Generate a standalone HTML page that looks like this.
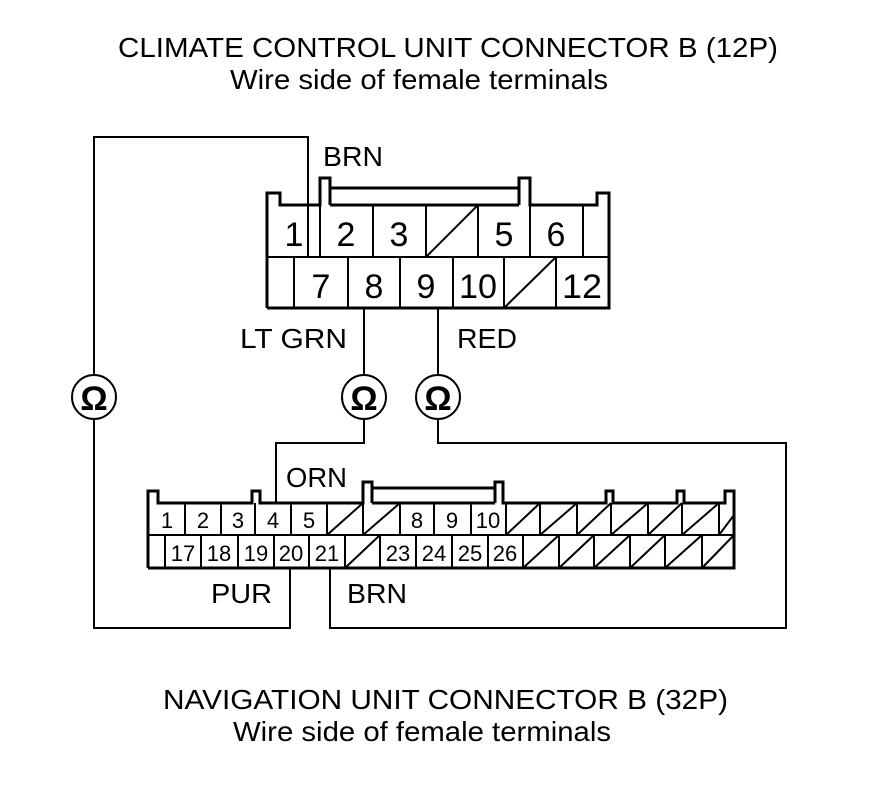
<!DOCTYPE html>
<html><head><style>html,body{margin:0;padding:0;background:#fff}svg{display:block}text{font-family:"Liberation Sans",Arial,sans-serif;fill:#000}</style></head><body>
<svg width="880" height="788" viewBox="0 0 880 788" xmlns="http://www.w3.org/2000/svg">
<g font-size="28">
<text x="118" y="57" textLength="660" lengthAdjust="spacingAndGlyphs">CLIMATE CONTROL UNIT CONNECTOR B (12P)</text>
<text x="230" y="89" textLength="378" lengthAdjust="spacingAndGlyphs">Wire side of female terminals</text>
<text x="163" y="709" textLength="565" lengthAdjust="spacingAndGlyphs">NAVIGATION UNIT CONNECTOR B (32P)</text>
<text x="233" y="741" textLength="378" lengthAdjust="spacingAndGlyphs">Wire side of female terminals</text>
<text x="323" y="166" textLength="60" lengthAdjust="spacingAndGlyphs">BRN</text>
<text x="240" y="348" textLength="107" lengthAdjust="spacingAndGlyphs">LT GRN</text>
<text x="457" y="348" textLength="60" lengthAdjust="spacingAndGlyphs">RED</text>
<text x="286" y="487" textLength="61" lengthAdjust="spacingAndGlyphs">ORN</text>
<text x="211" y="603" textLength="61" lengthAdjust="spacingAndGlyphs">PUR</text>
<text x="347" y="603" textLength="60" lengthAdjust="spacingAndGlyphs">BRN</text>
</g>
<g fill="none" stroke="#000" stroke-width="2">
<polyline points="308,257 308,137 94,137 94,375"/>
<polyline points="94,419 94,628 290,628 290,568"/>
<polyline points="330,568 330,628 786,628 786,443 438,443 438,419"/>
<polyline points="438,375 438,308"/>
<polyline points="364,308 364,375"/>
<polyline points="364,419 364,443 276,443 276,503"/>
<circle cx="94" cy="397" r="22"/>
<circle cx="364" cy="397" r="22"/>
<circle cx="438" cy="397" r="22"/>
</g>
<g font-size="34" text-anchor="middle" font-weight="bold">
<text x="94" y="410">Ω</text><text x="364" y="410">Ω</text><text x="438" y="410">Ω</text>
</g>
<g fill="none" stroke="#000" stroke-width="3">
<polyline points="267,308 267,193 280,193 280,205 320,205 320,178 330,178 330,205"/>
<polyline points="320,188 320,205"/>
<polyline points="330,188 519,188"/>
<polyline points="519,205 519,178 530,178 530,205 597,205 597,193 609,193 609,308 267,308"/>
<line x1="330" y1="205" x2="519" y2="205"/>
</g>
<g fill="none" stroke="#000" stroke-width="2">
<line x1="267" y1="257" x2="609" y2="257"/>
<line x1="320" y1="205" x2="320" y2="257"/>
<line x1="373" y1="205" x2="373" y2="257"/>
<line x1="426" y1="205" x2="426" y2="257"/>
<line x1="478" y1="205" x2="478" y2="257"/>
<line x1="530" y1="205" x2="530" y2="257"/>
<line x1="583" y1="205" x2="583" y2="257"/>
<line x1="426" y1="257" x2="478" y2="205"/>
<line x1="294" y1="257" x2="294" y2="308"/>
<line x1="348" y1="257" x2="348" y2="308"/>
<line x1="400" y1="257" x2="400" y2="308"/>
<line x1="453" y1="257" x2="453" y2="308"/>
<line x1="504" y1="257" x2="504" y2="308"/>
<line x1="556" y1="257" x2="556" y2="308"/>
<line x1="504" y1="308" x2="556" y2="257"/>
</g>
<g font-size="34" text-anchor="middle">
<text x="294" y="246">1</text><text x="346" y="246">2</text><text x="399" y="246">3</text><text x="504" y="246">5</text><text x="556" y="246">6</text>
<text x="321" y="298">7</text><text x="374" y="298">8</text><text x="426" y="298">9</text><text x="478" y="298" textLength="38" lengthAdjust="spacingAndGlyphs">10</text><text x="582" y="298" textLength="40" lengthAdjust="spacingAndGlyphs">12</text>
</g>
<g fill="none" stroke="#000" stroke-width="3">
<polyline points="148,568 148,491 158,491 158,503 252,503 252,491 260,491 260,503 363,503 363,482 372,482 372,503"/>
<line x1="372" y1="488" x2="495" y2="488"/>
<polyline points="495,503 495,482 503,482 503,503 606,503 606,491 613,491 613,503 677,503 677,491 684,491 684,503 725,503 725,491 734,491 734,568 148,568"/>
<line x1="372" y1="503" x2="495" y2="503"/>
</g>
<g fill="none" stroke="#000" stroke-width="2">
<line x1="148" y1="535" x2="734" y2="535"/>
<line x1="185" y1="503" x2="185" y2="535"/><line x1="221" y1="503" x2="221" y2="535"/>
<line x1="255" y1="503" x2="255" y2="535"/><line x1="291" y1="503" x2="291" y2="535"/>
<line x1="327" y1="503" x2="327" y2="535"/><line x1="363" y1="503" x2="363" y2="535"/>
<line x1="400" y1="503" x2="400" y2="535"/><line x1="434" y1="503" x2="434" y2="535"/>
<line x1="471" y1="503" x2="471" y2="535"/><line x1="506" y1="503" x2="506" y2="535"/>
<line x1="540" y1="503" x2="540" y2="535"/><line x1="577" y1="503" x2="577" y2="535"/>
<line x1="611" y1="503" x2="611" y2="535"/><line x1="648" y1="503" x2="648" y2="535"/>
<line x1="682" y1="503" x2="682" y2="535"/><line x1="719" y1="503" x2="719" y2="535"/>
<line x1="327" y1="535" x2="363" y2="503"/><line x1="363" y1="535" x2="400" y2="503"/>
<line x1="506" y1="535" x2="540" y2="503"/><line x1="540" y1="535" x2="577" y2="503"/>
<line x1="577" y1="535" x2="611" y2="503"/><line x1="611" y1="535" x2="648" y2="503"/>
<line x1="648" y1="535" x2="682" y2="503"/><line x1="682" y1="535" x2="719" y2="503"/>
<line x1="719" y1="535" x2="734" y2="515"/>
<line x1="165" y1="535" x2="165" y2="568"/><line x1="201" y1="535" x2="201" y2="568"/>
<line x1="238" y1="535" x2="238" y2="568"/><line x1="274" y1="535" x2="274" y2="568"/>
<line x1="309" y1="535" x2="309" y2="568"/><line x1="345" y1="535" x2="345" y2="568"/>
<line x1="380" y1="535" x2="380" y2="568"/><line x1="416" y1="535" x2="416" y2="568"/>
<line x1="452" y1="535" x2="452" y2="568"/><line x1="488" y1="535" x2="488" y2="568"/>
<line x1="523" y1="535" x2="523" y2="568"/><line x1="559" y1="535" x2="559" y2="568"/>
<line x1="594" y1="535" x2="594" y2="568"/><line x1="630" y1="535" x2="630" y2="568"/>
<line x1="665" y1="535" x2="665" y2="568"/><line x1="702" y1="535" x2="702" y2="568"/>
<line x1="345" y1="568" x2="380" y2="535"/>
<line x1="523" y1="568" x2="559" y2="535"/><line x1="559" y1="568" x2="594" y2="535"/>
<line x1="594" y1="568" x2="630" y2="535"/><line x1="630" y1="568" x2="665" y2="535"/>
<line x1="665" y1="568" x2="702" y2="535"/><line x1="702" y1="568" x2="734" y2="535"/>
</g>
<g font-size="22" text-anchor="middle">
<text x="167" y="528">1</text><text x="203" y="528">2</text><text x="238" y="528">3</text><text x="273" y="528">4</text><text x="309" y="528">5</text>
<text x="417" y="528">8</text><text x="452" y="528">9</text><text x="488" y="528">10</text>
<text x="183" y="561">17</text><text x="219" y="561">18</text><text x="256" y="561">19</text><text x="291" y="561">20</text><text x="327" y="561">21</text>
<text x="398" y="561">23</text><text x="434" y="561">24</text><text x="470" y="561">25</text><text x="505" y="561">26</text>
</g>
</svg>
</body></html>
